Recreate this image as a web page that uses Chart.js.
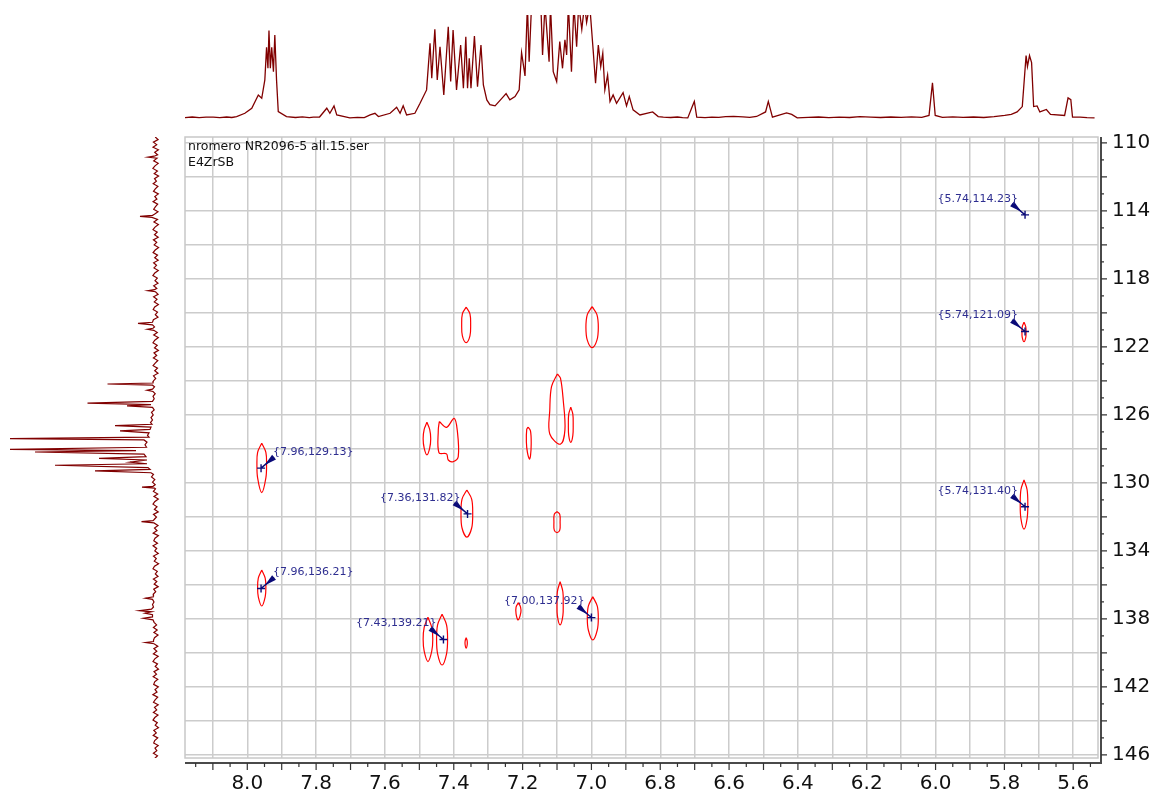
<!DOCTYPE html>
<html>
<head>
<meta charset="utf-8">
<title>HSQC map</title>
<script src="https://cdn.jsdelivr.net/npm/chart.js@4.4.1/dist/chart.umd.min.js"></script>
<style>
	html, body { margin: 0; padding: 0; background: #fff; }
	#wrap { position: relative; width: 1156px; height: 798px; }
	#wrap canvas { position: absolute; left: 0; top: 0; }
</style>
</head>
<body>
<div id="wrap">
	<canvas id="topSpec" width="1156" height="137"></canvas>
	<canvas id="leftSpec" width="170" height="798"></canvas>
	<canvas id="map" width="1156" height="798"></canvas>
</div>
<script>
// axis ranges (ppm)
const H_MIN = 5.528, H_MAX = 8.181;
const C_MIN = 109.65, C_MAX = 146.18;

const titleLines = ["nromero NR2096-5 all.15.ser", "E4ZrSB"];

// picked peaks
const peakH = [5.74, 5.74, 7.96, 7.36, 5.74, 7.96, 7.00, 7.43];
const peakC = [114.23, 121.09, 129.13, 131.82, 131.40, 136.21, 137.92, 139.21];

// 1H projection: [ppm, intensity]
const topTrace = [
	[8.181,0.3],[8.16,0.9],[8.14,0.2],[8.12,0.8],[8.099,0.7],[8.08,0.3],[8.06,0.9],[8.045,0.4],
	[8.031,1.3],[8.007,4.5],[7.987,9.4],[7.968,22.3],[7.958,19.1],[7.949,36.9],
	[7.944,68.6],[7.940,48.2],[7.937,84.8],[7.933,48.2],[7.929,68.6],[7.924,45],[7.920,80.6],[7.915,36.9],
	[7.910,6.1],[7.886,1.3],[7.86,0.4],[7.84,1.0],[7.82,0.3],[7.808,0.7],[7.79,0.9],
	[7.769,9.4],[7.760,4.5],[7.748,11.7],[7.740,2.9],[7.702,0],[7.68,0.6],[7.66,0.2],
	[7.643,2.9],[7.629,4.5],[7.619,1.3],[7.585,4.5],[7.566,10.4],[7.556,4.5],[7.547,11.7],[7.537,2.9],
	[7.513,4.5],[7.498,14.2],[7.479,27.2],[7.469,72.5],[7.464,38.5],[7.455,86.1],[7.448,36.9],[7.440,69.2],
	[7.429,22.3],[7.416,88.6],[7.409,35.3],[7.402,85.4],[7.392,27.2],[7.380,70.9],[7.372,28.8],[7.365,78.9],
	[7.360,28.8],[7.355,58],[7.350,28.8],[7.340,79.6],[7.331,30.4],[7.321,70.9],[7.314,32],[7.304,17.5],
	[7.295,12.9],[7.280,11.7],[7.261,18.8],[7.248,23.6],[7.237,17.5],[7.222,20.7],[7.210,27.2],[7.203,63.4],
	[7.193,40.8],[7.186,110],[7.181,54.7],[7.174,110],[7.147,110],[7.142,61.2],[7.135,110],[7.123,54.7],
	[7.119,110],[7.111,45],[7.101,35.3],[7.092,74.1],[7.084,48.2],[7.077,76],[7.072,61.2],[7.067,110],
	[7.058,45],[7.051,110],[7.043,69.2],[7.037,110],[7.028,86.1],[7.020,110],[7.014,92.8],[7.005,110],
	[6.995,66],[6.988,33.7],[6.980,70.9],[6.973,49.8],[6.967,62.8],[6.961,27.2],[6.953,41.7],[6.946,15.9],
	[6.937,22.3],[6.927,14.2],[6.908,24.6],[6.898,11.7],[6.890,20.7],[6.879,7.8],[6.859,2.9],[6.822,5.8],
	[6.806,1.3],[6.791,0.7],[6.77,0.4],[6.75,0.9],[6.735,0.2],[6.720,0],[6.707,11],[6.701,16],[6.694,0.7],
	[6.67,0.3],[6.65,0.8],[6.63,0.5],[6.61,1.2],[6.587,1.4],[6.56,1.0],[6.54,0.6],[6.52,1.4],[6.494,5.8],
	[6.486,16],[6.474,0.7],[6.433,4.8],[6.418,3.4],[6.402,0],[6.37,0.5],[6.34,0.9],[6.31,0.3],[6.28,0.8],
	[6.25,0.4],[6.22,1.2],[6.188,0.7],[6.16,0.4],[6.13,0.9],[6.10,0.5],[6.07,1.0],[6.04,0.6],[6.019,2.4],[6.009,34],
	[6.001,2.4],[5.98,0.5],[5.95,1.1],[5.92,0.6],[5.89,0.9],[5.86,0.4],[5.83,1.2],[5.799,2.4],[5.78,3.5],
	[5.763,5.8],[5.748,11],[5.737,60.6],[5.733,50],[5.727,60.6],[5.721,53.8],
	[5.715,11],[5.705,11.6],[5.697,5.8],[5.678,8.2],[5.666,3.4],[5.625,2.4],[5.615,19.5],[5.607,17.8],
	[5.602,0.7],[5.58,0.8],[5.56,0.3],[5.538,0]
];

// 13C projection: [ppm, intensity]
const leftTrace = [
	[109.65,0.8],[109.8,-2.1],[109.95,2.6],[110.1,-0.7],[110.25,3.0],[110.4,-2.4],[110.55,1.3],[110.7,-1.6],
	[110.78,1.9],[110.84,8],[110.9,-1.0],[111.05,2.3],[111.2,-2.2],[111.35,1.0],[111.5,3.1],[111.65,-1.4],
	[111.8,1.8],[111.95,-2.6],[112.1,1.5],[112.25,-0.4],[112.4,2.8],[112.55,-1.9],[112.7,0.7],[112.85,2.5],
	[113.0,-2.3],[113.15,1.2],[113.3,-0.9],[113.45,2.9],[113.6,-1.7],[113.75,0.5],[113.9,2.3],[114.05,-2.0],
	[114.2,1.6],[114.26,3.5],[114.32,16],[114.38,4],[114.5,-1.5],[114.65,2.1],[114.8,-2.4],[114.95,1.0],
	[115.1,3.0],[115.25,-1.2],[115.4,1.5],[115.55,-2.2],[115.7,2.6],[115.85,-0.7],[116.0,1.8],[116.15,-2.6],
	[116.3,0.8],[116.45,2.9],[116.6,-1.5],[116.75,1.3],[116.9,-2.2],[117.05,2.4],[117.2,-0.5],[117.35,2.0],
	[117.5,-2.3],[117.65,1.2],[117.8,3.1],[117.95,-1.3],[118.1,1.0],[118.25,-2.0],[118.4,2.3],[118.55,-0.8],
	[118.63,1.5],[118.69,8],[118.75,0.5],[118.9,-2.1],[119.05,2.4],[119.2,-1.0],[119.35,1.7],[119.5,-2.4],
	[119.65,1.3],[119.8,2.8],[119.95,-1.5],[120.1,0.7],[120.25,-2.0],[120.4,2.6],[120.55,3.5],[120.61,18],
	[120.7,3.5],[120.82,1.5],[120.9,3],[120.96,8.5],[121.02,2.2],[121.15,-1.3],[121.3,2.3],[121.45,-2.3],
	[121.6,1.2],[121.75,3.0],[121.9,-1.2],[122.05,1.5],[122.2,-2.4],[122.35,2.0],[122.5,-0.7],[122.65,2.6],
	[122.8,-1.8],[122.95,0.8],[123.1,2.9],[123.25,-1.5],[123.4,1.3],[123.55,-2.0],[123.7,2.5],[123.85,0.3],
	[124.0,2.6],[124.12,3],[124.18,48.5],[124.25,3.5],[124.35,1.5],[124.48,3.5],[124.55,9],[124.62,3],
	[124.75,0.8],[124.9,3.0],[125.05,1.8],[125.2,3.5],[125.31,68.5],[125.39,5],[125.47,29],[125.55,3.5],
	[125.7,1.8],[125.85,4.5],[126.0,2.8],[126.15,5],[126.3,3.5],[126.45,5.5],[126.55,4],[126.63,41],
	[126.72,5],[126.85,6],[126.94,36],[127.05,7],[127.2,8.5],[127.3,7],[127.39,146],[127.47,12],
	[127.6,9],[127.75,11],[127.9,9.5],[128.02,146],[128.1,20],[128.18,121],[128.3,12],[128.45,10],
	[128.55,57],[128.65,9],[128.78,26],[128.87,9],[128.96,101],[129.1,8],[129.2,6],[129.29,61],
	[129.4,5],[129.5,2.5],[129.65,4.5],[129.8,1.2],[129.95,3.5],[130.1,0.8],[130.2,3],[130.25,14],
	[130.3,1.5],[130.35,0.5],[130.5,2.6],[130.65,-1.7],[130.8,2.0],[130.95,-2.3],[131.1,1.3],[131.25,3.0],
	[131.4,-1.0],[131.55,1.6],[131.7,-2.2],[131.85,2.5],[132.0,-0.5],[132.15,1.8],[132.22,3],[132.28,14.5],
	[132.35,2],[132.5,-2.0],[132.65,1.5],[132.8,-1.0],[132.95,2.8],[133.1,-2.4],[133.25,1.0],[133.4,2.2],
	[133.55,-1.5],[133.7,2.9],[133.85,-0.7],[134.0,1.2],[134.15,-2.3],[134.3,2.5],[134.45,-0.3],[134.6,1.7],
	[134.75,-2.6],[134.9,1.5],[135.05,3.0],[135.2,-1.3],[135.35,0.7],[135.5,-2.0],[135.65,2.6],[135.8,-0.8],
	[135.95,1.8],[136.1,-2.2],[136.25,2.3],[136.4,0.3],[136.55,2.8],[136.7,2.5],[136.78,10.5],[136.85,3.5],
	[137.0,2],[137.15,3.5],[137.3,2.5],[137.42,4.5],[137.51,16.5],[137.58,4.5],[137.66,11],[137.75,3.5],
	[137.88,3.5],[137.96,12.5],[138.05,3],[138.2,1.9],[138.35,-0.6],[138.5,2.6],[138.65,-1.2],[138.8,2.1],
	[138.95,-2.0],[139.1,1.5],[139.25,2.5],[139.33,2.5],[139.39,10.5],[139.46,2],[139.6,-1.8],[139.75,2.1],
	[139.9,-0.8],[140.05,2.6],[140.2,-2.2],[140.35,1.2],[140.5,3.0],[140.65,-1.5],[140.8,0.8],[140.95,-2.5],
	[141.1,2.0],[141.25,-0.5],[141.4,2.8],[141.55,-1.8],[141.7,1.3],[141.85,2.3],[142.0,-2.3],[142.15,1.0],
	[142.3,-1.0],[142.45,3.1],[142.6,-1.7],[142.75,0.7],[142.9,2.5],[143.05,-2.2],[143.2,1.5],[143.35,-0.7],
	[143.5,2.6],[143.65,-2.0],[143.8,1.2],[143.95,3.0],[144.1,-1.3],[144.25,0.8],[144.4,-2.5],[144.55,2.2],
	[144.7,-0.3],[144.85,2.8],[145.0,-1.7],[145.15,1.3],[145.3,2.3],[145.45,-2.2],[145.6,1.0],[145.75,-0.8],
	[145.9,2.6],[146.05,-1.5],[146.2,1.2],[146.25,0.5]
];

// contour outlines: [1H ppm, 13C ppm]
const contourA = [[7.958,127.66],[7.946,128.2],[7.944,128.9],[7.946,129.7],[7.958,130.57],[7.970,129.7],[7.972,128.9],[7.970,128.2]];
const contourB = [[7.958,135.12],[7.948,135.6],[7.946,136.15],[7.948,136.7],[7.958,137.24],[7.968,136.7],[7.970,136.15],[7.968,135.6]];
const contourC = [[7.364,119.66],[7.353,120.05],[7.351,120.7],[7.353,121.35],[7.364,121.75],[7.375,121.35],[7.377,120.7],[7.375,120.05]];
const contourD = [[6.998,119.63],[6.984,120.1],[6.980,120.85],[6.984,121.6],[6.998,122.04],[7.012,121.6],[7.016,120.85],[7.012,120.1]];
const contourE = [[7.099,123.59],[7.090,123.84],[7.082,125.12],[7.077,126.88],[7.090,127.72],[7.121,127.12],[7.121,125.71],[7.116,124.34]];
const contourF = [[7.060,125.55],[7.054,125.95],[7.053,126.6],[7.054,127.2],[7.060,127.61],[7.066,127.2],[7.067,126.6],[7.066,125.95]];
const contourG = [[7.478,126.43],[7.470,126.85],[7.467,127.4],[7.470,127.95],[7.478,128.35],[7.486,127.95],[7.489,127.4],[7.486,126.85]];
const contourH = [[7.442,126.39],[7.421,126.73],[7.399,126.20],[7.390,126.88],[7.387,128.45],[7.402,128.75],[7.416,128.65],[7.421,128.29],[7.443,128.22],[7.445,126.88]];
const contourI = [[7.184,126.72],[7.177,126.95],[7.175,127.7],[7.177,128.4],[7.180,128.59],[7.186,128.2],[7.189,127.6],[7.188,126.85]];
const contourJ = [[7.362,130.41],[7.348,130.95],[7.345,131.8],[7.348,132.65],[7.362,133.19],[7.376,132.65],[7.379,131.8],[7.376,130.95]];
const contourK = [[7.100,131.69],[7.092,131.85],[7.091,132.3],[7.092,132.78],[7.100,132.92],[7.108,132.78],[7.109,132.3],[7.108,131.85]];
const contourL = [[5.743,120.55],[5.738,120.8],[5.737,121.12],[5.738,121.45],[5.743,121.69],[5.748,121.45],[5.749,121.12],[5.748,120.8]];
const contourM = [[5.743,129.82],[5.734,130.4],[5.732,131.27],[5.734,132.1],[5.743,132.72],[5.752,132.1],[5.754,131.27],[5.752,130.4]];
const contourN = [[7.475,137.9],[7.464,138.5],[7.461,139.2],[7.464,139.9],[7.475,140.51],[7.486,139.9],[7.489,139.2],[7.486,138.5]];
const contourO = [[7.434,137.72],[7.421,138.35],[7.418,139.2],[7.421,140.05],[7.434,140.71],[7.447,140.05],[7.450,139.2],[7.447,138.35]];
const contourP = [[7.364,139.10],[7.361,139.3],[7.361,139.52],[7.364,139.72],[7.367,139.52],[7.367,139.3]];
const contourQ = [[7.212,137.04],[7.206,137.3],[7.205,137.6],[7.213,138.06],[7.219,137.7],[7.219,137.3]];
const contourR = [[7.091,135.8],[7.083,136.4],[7.082,137.1],[7.083,137.8],[7.091,138.35],[7.099,137.8],[7.100,137.1],[7.099,136.4]];
const contourS = [[6.996,136.69],[6.983,137.25],[6.980,137.95],[6.983,138.65],[6.996,139.24],[7.009,138.65],[7.012,137.95],[7.009,137.25]];

const contours = [contourA, contourB, contourC, contourD, contourE, contourF, contourG, contourH, contourI, contourJ,
	contourK, contourL, contourM, contourN, contourO, contourP, contourQ, contourR, contourS];

const FONT = "'DejaVu Sans', Verdana, sans-serif";
const SPEC_COLOR = "#800000";

function onStep(v, step) {
	const r = v / step;
	return Math.abs(r - Math.round(r)) < 1e-6;
}

function toPoints(pairs) {
	return pairs.map(([x, y]) => ({ x: x, y: y }));
}

const baseOptions = {
	responsive: false,
	animation: false,
	events: [],
	plugins: { legend: { display: false }, tooltip: { enabled: false } },
};

// 1H projection on top
new Chart(document.getElementById("topSpec"), {
	type: "line",
	data: {
		datasets: [{
			data: toPoints(topTrace),
			borderColor: SPEC_COLOR,
			borderWidth: 1.3,
			pointRadius: 0,
			tension: 0,
		}],
	},
	options: {
		...baseOptions,
		layout: { padding: { left: 185, right: 58, top: 15, bottom: 16 } },
		scales: {
			x: { type: "linear", reverse: true, min: H_MIN, max: H_MAX, display: false },
			y: { type: "linear", min: -3, max: 100, display: false },
		},
	},
});

// 13C projection on the left
new Chart(document.getElementById("leftSpec"), {
	type: "line",
	data: {
		datasets: [{
			data: leftTrace.map(([c, i]) => ({ x: i, y: c })),
			borderColor: SPEC_COLOR,
			borderWidth: 1.2,
			pointRadius: 0,
			tension: 0,
		}],
	},
	options: {
		...baseOptions,
		layout: { padding: { left: 6, right: 9, top: 137, bottom: 40 } },
		scales: {
			x: { type: "linear", reverse: true, min: -5, max: 150, display: false },
			y: { type: "linear", reverse: true, min: C_MIN, max: C_MAX, display: false },
		},
	},
});

const mapFrame = {
	id: "mapFrame",
	beforeDatasetsDraw(chart) {
		const { ctx, chartArea: a } = chart;
		ctx.save();
		ctx.strokeStyle = "#c8c8c8";
		ctx.lineWidth = 1.5;
		ctx.strokeRect(a.left, a.top, a.right - a.left, a.bottom - a.top);
		ctx.restore();
	},
	afterDraw(chart) {
		const { ctx, chartArea: a } = chart;
		const x = chart.scales.x;
		const y = chart.scales.y;
		const axisY = a.bottom + 5;
		const axisX = a.right + 3;

		ctx.save();
		ctx.strokeStyle = "#4a4a4a";
		ctx.lineWidth = 2;
		ctx.beginPath();
		ctx.moveTo(a.left, axisY);
		ctx.lineTo(axisX + 1, axisY);
		ctx.moveTo(axisX, a.top);
		ctx.lineTo(axisX, axisY);
		ctx.stroke();

		ctx.strokeStyle = "#333";
		ctx.lineWidth = 1.2;
		ctx.beginPath();
		x.ticks.forEach((t) => {
			const px = x.getPixelForValue(t.value);
			const len = onStep(t.value, 0.1) ? 7 : 4;
			ctx.moveTo(px, axisY);
			ctx.lineTo(px, axisY + len);
		});
		y.ticks.forEach((t) => {
			const py = y.getPixelForValue(t.value);
			const len = onStep(t.value, 2) ? 6 : 3;
			ctx.moveTo(axisX, py);
			ctx.lineTo(axisX + len, py);
		});
		ctx.stroke();
		ctx.restore();
	},
};

const mapNotes = {
	id: "mapNotes",
	afterDatasetsDraw(chart) {
		const { ctx, chartArea: a } = chart;
		const x = chart.scales.x;
		const y = chart.scales.y;

		ctx.save();
		ctx.fillStyle = "#111";
		ctx.font = "12.5px " + FONT;
		ctx.textBaseline = "alphabetic";
		ctx.textAlign = "left";
		titleLines.forEach((line, i) => {
			ctx.fillText(line, a.left + 3, a.top + 12.5 + i * 16.5);
		});

		peakH.forEach((h, i) => {
			const px = x.getPixelForValue(h);
			const py = y.getPixelForValue(peakC[i]);
			// labels near the left edge go to the right of the peak
			const side = h > 7.8 ? 1 : -1;
			const sx = px + side * 13;
			const sy = py - 11;
			const dx = px - sx;
			const dy = py - sy;
			const len = Math.hypot(dx, dy);
			const nx = -dy / len;
			const ny = dx / len;

			ctx.fillStyle = "#0b0b78";
			ctx.beginPath();
			ctx.moveTo(sx + nx * 3, sy + ny * 3);
			ctx.lineTo(sx - nx * 3, sy - ny * 3);
			ctx.lineTo(sx + dx * 0.72, sy + dy * 0.72);
			ctx.closePath();
			ctx.fill();

			ctx.strokeStyle = "#0b0b78";
			ctx.lineWidth = 1.4;
			ctx.beginPath();
			ctx.moveTo(sx, sy);
			ctx.lineTo(px, py);
			ctx.moveTo(px - 4, py);
			ctx.lineTo(px + 4, py);
			ctx.moveTo(px, py - 4);
			ctx.lineTo(px, py + 4);
			ctx.stroke();

			ctx.fillStyle = "#2e2e90";
			ctx.font = "11px " + FONT;
			ctx.textBaseline = "middle";
			ctx.textAlign = side > 0 ? "left" : "right";
			const label = `{${h.toFixed(2)},${peakC[i].toFixed(2)}}`;
			ctx.fillText(label, px + (side > 0 ? 12 : -7), py - 16);
		});
		ctx.restore();
	},
};

// 2D map
new Chart(document.getElementById("map"), {
	type: "line",
	data: {
		datasets: contours.map((c) => ({
			data: toPoints(c.concat([c[0]])),
			borderColor: "#ff0000",
			borderWidth: 1.2,
			pointRadius: 0,
			tension: 0.35,
			fill: false,
		})),
	},
	options: {
		...baseOptions,
		layout: { padding: { left: 185, top: 137, right: 0, bottom: 0 } },
		scales: {
			x: {
				type: "linear",
				position: "bottom",
				reverse: true,
				min: H_MIN,
				max: H_MAX,
				afterFit: (s) => { s.height = 40; },
				border: { display: false },
				grid: {
					drawTicks: false,
					lineWidth: 1.5,
					color: (c) => (c.tick && onStep(c.tick.value, 0.1) ? "#cccccc" : "rgba(0,0,0,0)"),
				},
				ticks: {
					stepSize: 0.05,
					includeBounds: false,
					autoSkip: false,
					maxRotation: 0,
					minRotation: 0,
					padding: 14,
					color: "#111",
					font: { family: FONT, size: 20 },
					callback: (v) => (onStep(v, 0.2) ? v.toFixed(1) : ""),
				},
			},
			y: {
				type: "linear",
				position: "right",
				reverse: true,
				min: C_MIN,
				max: C_MAX,
				afterFit: (s) => { s.width = 58; },
				border: { display: false },
				grid: {
					drawTicks: false,
					lineWidth: 1.5,
					color: (c) => (c.tick && onStep(c.tick.value, 2) ? "#cccccc" : "rgba(0,0,0,0)"),
				},
				ticks: {
					stepSize: 1,
					includeBounds: false,
					autoSkip: false,
					padding: 14,
					color: "#111",
					font: { family: FONT, size: 20 },
					// labels every 4 ppm, starting at 110
					callback: (v) => (onStep(v + 2, 4) ? String(v) : ""),
				},
			},
		},
	},
	plugins: [mapFrame, mapNotes],
});
</script>
</body>
</html>
